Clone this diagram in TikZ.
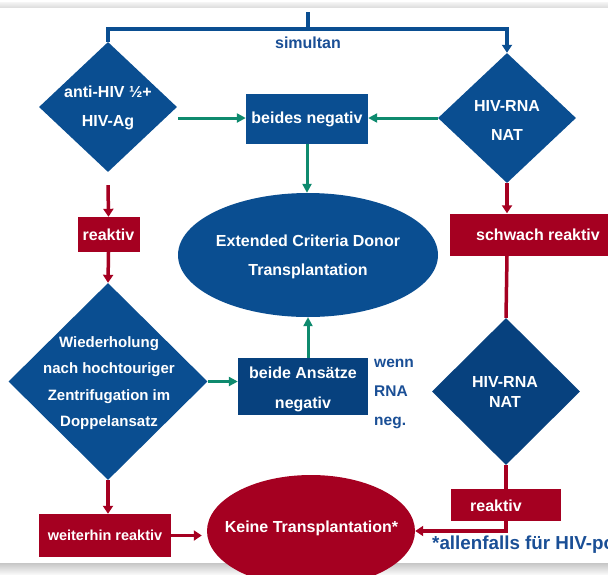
\documentclass[tikz,border=0pt]{standalone}
\usepackage{fontspec}
\setmainfont{Liberation Sans}
\usetikzlibrary{shapes.geometric,calc,arrows.meta}
\definecolor{dblue}{HTML}{0A4E91}
\definecolor{bblue}{HTML}{07417E}
\definecolor{dred}{HTML}{A50021}
\definecolor{dgreen}{HTML}{0E8A6E}
\definecolor{tblue}{HTML}{1A4F96}
\begin{document}
\begin{tikzpicture}[x=1pt,y=-1pt,
  dia/.style={diamond,fill=dblue,inner sep=0pt},
  txt/.style={text=white,align=center,inner sep=0pt,font=\bfseries\fontsize{16}{29}\selectfont},
  bbox/.style={fill=bblue,inner sep=0pt,text=white,align=center,font=\bfseries\fontsize{16}{30}\selectfont},
  rbox/.style={fill=dred,inner sep=0pt,text=white,align=center,font=\bfseries\fontsize{16}{29}\selectfont},
  bl/.style={draw=dblue,line width=3.5pt},
  rl/.style={draw=dred,line width=3.5pt},
  gl/.style={draw=dgreen,line width=3pt},
  barr/.style={-{Triangle[length=8pt,width=10pt]}},
  rarr/.style={-{Triangle[length=8pt,width=10pt]}},
  garr/.style={-{Triangle[length=9pt,width=9pt]}}]
\useasboundingbox (0,0) rectangle (608,574);
\clip (0,0) rectangle (608,574);
\fill[white] (0,0) rectangle (608,574);
\shade[top color=gray!8,bottom color=gray!25] (0,2) rectangle (608,7);
\shade[top color=gray!45,bottom color=gray!6] (0,563) rectangle (608,574);

% top row
\node[dia,minimum width=138pt,minimum height=130pt] (d1) at (108,107) {};
\node[txt] (t1) at (108,107.5) {anti-HIV ½+\\HIV-Ag};
\node[dia,minimum width=138pt,minimum height=130pt] (d2) at (507,118) {};
\node[txt] (t2) at (507,120) {HIV-RNA\\NAT};
\node[bbox,fill=dblue,minimum width=122pt,minimum height=50pt] (bn) at (307,119) {beides negativ};
\node[text=tblue,font=\bfseries\fontsize{16}{20}\selectfont,inner sep=0pt] (sim) at (308,43) {simultan};

% middle
\node[ellipse,fill=dblue,inner sep=0pt,minimum width=260pt,minimum height=124pt] (ecd) at (308,255) {};
\node[txt] (tecd) at (308,256.5) {Extended Criteria Donor\\Transplantation};
\node[rbox,minimum width=62pt,minimum height=35pt] (rk1) at (108.5,234.5) {reaktiv};
\node[rbox,minimum width=176pt,minimum height=42pt] (sr) at (538,234.5) {schwach reaktiv};

\node[dia,minimum width=199pt,minimum height=197pt] (d3) at (108,381.5) {};
\node[txt,font=\bfseries\fontsize{15}{26.5}\selectfont] (t3) at (109,383) {Wiederholung\\nach hochtouriger\\Zentrifugation im\\Doppelansatz};
\node[bbox,minimum width=130pt,minimum height=57pt] (ba) at (303,386.5) {};
\node[txt,font=\bfseries\fontsize{16}{30}\selectfont] (tba) at (303,389.5) {beide Ansätze\\negativ};
\node[text=tblue,align=left,inner sep=0pt,anchor=west,font=\bfseries\fontsize{15.5}{29}\selectfont] (wn) at (374,394) {wenn\\RNA\\neg.};
\node[dia,fill=bblue,minimum width=148pt,minimum height=147pt] (d4) at (506,391.5) {};
\node[txt,font=\bfseries\fontsize{16}{20}\selectfont] (t4) at (505,392) {HIV-RNA\\NAT};

% bottom
\node[rbox,minimum width=110pt,minimum height=32pt] (rk2) at (506,505) {};
\node[text=white,inner sep=0pt,font=\bfseries\fontsize{16}{20}\selectfont] (trk2) at (496,506) {reaktiv};
\node[rbox,minimum width=132pt,minimum height=43pt,font=\bfseries\fontsize{14.5}{20}\selectfont] (wr) at (105,535.5) {weiterhin reaktiv};
\node[ellipse,fill=dred,inner sep=0pt,minimum width=208pt,minimum height=112pt] (kt) at (311,531) {};
\node[text=white,inner sep=0pt,font=\bfseries\fontsize{16}{20}\selectfont] (tkt) at (311.5,528) {Keine Transplantation*};
\node[text=tblue,inner sep=0pt,anchor=west,font=\bfseries\fontsize{18.8}{20}\selectfont] (fn) at (432,545) {*allenfalls für HIV-po};

% connectors
\coordinate (top) at (308,12);
\coordinate (jn) at (308,29);
\draw[bl] (top) -- (jn);
\draw[bl,barr] (d1.north) |- (jn) -| (d2.north);

\coordinate (g1) at ($(d1.east)+(1,11)$);
\draw[gl,garr] (g1) -- (g1 -| bn.west);
\draw[gl,garr] (d2.west) -- (d2.west -| bn.east);
\draw[gl,garr] (bn.south) -- (bn.south |- ecd.north);

\coordinate (r1) at ($(d1.south)+(0,13)$);
\draw[rl,rarr] (r1) -- (rk1.north);
\draw[rl,rarr] (rk1.south) -- (d3.north);
\draw[gl,garr] (d3.east) -- (d3.east -| ba.west);
\draw[gl,garr] (ecd.south |- ba.north) -- (ecd.south);

\draw[rl,rarr] (d2.south) -- (d2.south |- sr.north);
\draw[rl] (d2.south |- sr.south) -- (d4.north);
\draw[rl] (d4.south) -- (d4.south |- rk2.north);
\draw[rl,rarr] (d4.south |- rk2.south) |- (kt.east);
\draw[rl,rarr] (d3.south) -- (d3.south |- wr.north);
\draw[rl,rarr,shorten >=5pt] (wr.east) -- (wr.east -| kt.west);
\end{tikzpicture}
\end{document}
